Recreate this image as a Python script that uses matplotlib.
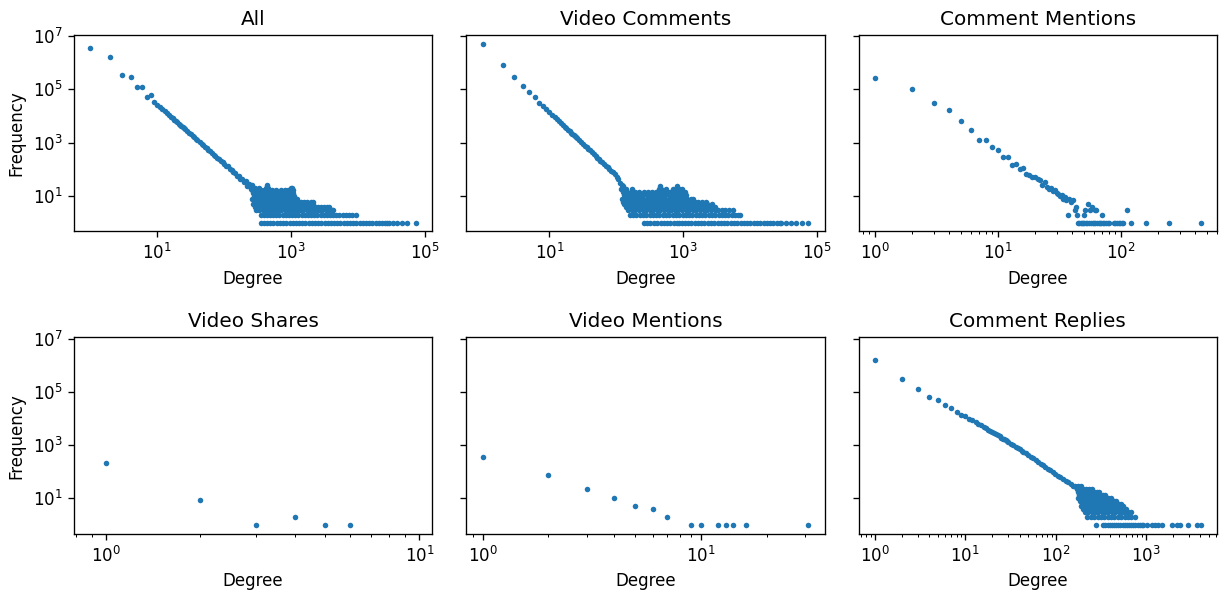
import matplotlib
matplotlib.use("Agg")
import matplotlib.pyplot as plt
from matplotlib.ticker import NullLocator

# ---- All ----
all_head_deg = [1, 2, 3, 4, 5, 6, 7, 8, 9, 10, 11, 12, 13, 14, 15, 16, 17, 18, 19, 20,
                21, 22, 23, 24, 25, 26, 28, 30, 32, 34, 36, 38, 40, 43, 46, 49, 52, 55,
                58, 62, 66, 70, 74, 79, 84, 89, 95, 101, 107, 114, 121, 129, 137, 146,
                155, 165, 175, 186, 198, 210, 223, 237, 252, 268]
all_head_freq = [3600000, 1600000, 340000, 300000, 120000, 118000, 52000, 60000, 33000,
                 27000, 22000, 17900, 15000, 12800, 10900, 9500, 8300, 7300, 6500, 5800,
                 5200, 4700, 4240, 3860, 3520, 3230, 2740, 2350, 2040, 1780, 1570, 1390,
                 1240, 1060, 910, 790, 690, 610, 543, 469, 408, 358, 316, 274, 239, 210,
                 182, 165, 133, 128, 100, 96, 77, 75, 58, 58, 43, 44, 32, 36, 24, 28, 19, 20]
all_tail = {
    25: [240, 265, 440],
    20: [250, 290, 330, 420, 455, 1000, 1040],
    16: [260, 300, 350, 400, 465, 520, 600, 700, 800, 900, 960, 1020, 1060],
    13: [270, 310, 340, 380, 430, 480, 540, 590, 650, 720, 780, 850, 920, 990, 1070],
    10: [280, 312, 345, 385, 430, 482, 535, 595, 660, 735, 820, 910, 1010, 1100],
    8: [262, 290, 325, 362, 400, 445, 495, 550, 615, 685, 760, 850, 945, 1050, 1170, 1250],
    6: [285, 315, 352, 390, 435, 485, 540, 600, 670, 745, 830, 925, 1030, 1150, 1280,
        1420, 1580, 1760, 1960, 2100],
    5: [270, 300, 335, 375, 415, 465, 515, 575, 640, 715, 795, 885, 985, 1100, 1220, 1360,
        1520, 1690, 1880, 2120],
    4: [290, 325, 360, 400, 450, 500, 560, 620, 690, 770, 860, 960, 1070, 1190, 1330, 1480,
        1650, 1840, 2050, 2280, 2540, 2830, 3150, 3500, 3700],
    3: [300, 335, 375, 420, 465, 520, 580, 645, 720, 800, 890, 995, 1110, 1235, 1380, 1535,
        1710, 1910, 2130, 2370, 2640, 2940, 3280, 3650, 4060, 4200],
    2: [350, 390, 435, 485, 540, 600, 670, 750, 835, 930, 1040, 1160, 1290, 1440, 1600,
        1790, 1990, 2220, 2480, 2760, 3080, 3430, 3830, 4270, 4760, 5300, 5910, 6590, 7350,
        8190, 9300],
    1: [350, 395, 440, 490, 545, 610, 680, 760, 850, 950, 1060, 1180, 1320, 1470, 1640, 1830,
        2040, 2280, 2540, 2840, 3170, 3540, 3950, 4410, 4920, 5490, 6130, 6840, 7640, 8530,
        9520, 10600, 11900, 13200, 14800, 16500, 18400, 20500, 22900, 25500, 27500, 29500,
        33000, 38000, 45000, 55000, 74000],
}

# ---- Video Comments ----
vc_head_deg = [1, 2, 3, 4, 5, 6, 7, 8, 9, 10, 11, 12, 13, 14, 15, 16, 17, 18, 19, 20,
               21, 22, 23, 24, 25, 26, 28, 30, 32, 34, 36, 38, 40, 43, 46, 49, 52, 55,
               58, 62, 66, 70, 74, 79, 84, 89, 95, 101, 107, 114, 121]
vc_head_freq = [5100000, 840000, 280000, 133000, 77000, 50000, 32000, 24000, 18000,
                14100, 11200, 9100, 7540, 6320, 5360, 4600, 3980, 3470, 3050, 2700,
                2400, 2150, 1930, 1750, 1580, 1440, 1210, 1025, 880, 760, 664, 583,
                516, 434, 370, 318, 276, 241, 213, 181, 156, 136, 119, 102, 88, 77,
                68, 52, 44, 30, 26]
vc_tail = {
    23: [125, 450, 820],
    18: [118, 140, 170, 430, 470, 560, 700, 790, 860, 950],
    14: [125, 145, 165, 190, 220, 260, 300, 340, 390, 440, 500, 570, 640, 720, 800, 880,
         960, 1050],
    11: [130, 150, 170, 195, 220, 250, 285, 325, 370, 420, 475, 540, 610, 690, 780, 880,
         990, 1100],
    8: [120, 135, 155, 175, 200, 225, 255, 290, 330, 375, 425, 480, 545, 615, 700, 790, 895,
        1010, 1140, 1300, 1400],
    6: [125, 142, 160, 182, 206, 233, 264, 299, 338, 383, 434, 491, 556, 630, 713, 807, 914,
        1035, 1170, 1325, 1500, 1700, 1900, 2200],
    5: [130, 148, 168, 190, 215, 244, 276, 312, 354, 400, 453, 513, 581, 658, 745, 843, 955,
        1080, 1225, 1385, 1570, 1780, 2010, 2280, 2700],
    4: [140, 158, 179, 203, 230, 260, 294, 333, 377, 427, 483, 547, 619, 701, 794, 899, 1018,
        1152, 1305, 1477, 1672, 1893, 2143, 2426, 2747, 3000],
    3: [150, 170, 192, 218, 247, 279, 316, 358, 405, 459, 519, 588, 666, 754, 853, 966, 1094,
        1238, 1402, 1587, 1797, 2034, 2303, 2607, 2952, 3342, 3783, 4283, 4849, 5490],
    2: [160, 180, 200, 225, 250, 280, 315, 350, 395, 440, 495, 555, 620, 695, 780, 870, 980,
        1095, 1230, 1375, 1540, 1720, 1930, 2160, 2420, 2710, 3040, 3400, 3810, 4270, 4780,
        5350, 5990, 6710, 7200],
    1: [260, 290, 325, 365, 410, 460, 515, 575, 645, 720, 800, 870, 950, 1060, 1190, 1330,
        1490, 1670, 1870, 2090, 2340, 2620, 2930, 3280, 3680, 4120, 4610, 5160, 5780, 6470,
        7250, 8120, 9090, 10200, 11400, 12800, 14300, 16000, 17900, 20100, 22500, 25200,
        28000, 29400, 35000, 41000, 49000, 61000, 75000],
}

# ---- Comment Mentions ----
cm_deg = [1, 2, 3, 4, 5, 6, 7, 8, 9, 10, 11, 12, 13, 14, 15, 16, 17, 18, 19, 20, 21, 22,
          23, 24, 25, 26, 27, 28, 29, 30, 31, 32, 33, 34, 35, 36, 37, 38, 39, 41, 42, 43,
          44, 50, 51, 54, 56, 58, 61, 63, 70, 111]
cm_freq = [270000, 106000, 32000, 17000, 6500, 3100, 1300, 1300, 690, 550, 290, 290, 150,
           160, 106, 108, 64, 60, 52, 50, 42, 40, 25, 33, 22, 19, 20, 15, 16, 13, 12, 10,
           11, 8, 9, 7, 2, 8, 6, 7, 3, 4, 2, 2, 3, 5, 3, 4, 3, 3, 2, 3]
cm_ones = [45, 46, 47, 48, 49, 50, 52, 53, 55, 57, 59, 60, 62, 64, 66, 67, 69, 71, 73, 76,
           78, 80, 88, 90, 93, 96, 99, 102, 104, 120, 160, 247, 445]

# ---- Video Shares ----
vs_deg = [1, 2, 3, 4, 5, 6]
vs_freq = [220, 9, 1, 2, 1, 1]

# ---- Video Mentions ----
vm_deg = [1, 2, 3, 4, 5, 6, 7, 9, 10, 12, 13, 14, 16, 31]
vm_freq = [350, 78, 22, 10, 5, 4, 2, 1, 1, 1, 1, 1, 1, 1]

# ---- Comment Replies ----
cr_head_deg = [1, 2, 3, 4, 5, 6, 7, 8, 9, 10, 11, 12, 13, 14, 15, 16, 17, 18, 19, 20,
               21, 22, 23, 24, 25, 26, 27, 28, 29, 30, 32, 34, 36, 38, 40, 42, 44, 47,
               50, 53, 56, 60, 64, 68, 72, 77, 82, 87, 93, 99, 106, 113, 121, 129, 138,
               147, 157, 168, 180, 193, 206, 220]
cr_head_freq = [1600000, 300000, 126000, 67000, 49000, 31000, 24000, 18000, 14000,
                12000, 10000, 8450, 7240, 6270, 5480, 4840, 4300, 3850, 3470, 3140,
                2840, 2570, 2330, 2120, 1940, 1780, 1640, 1510, 1400, 1300, 1130, 990,
                870, 775, 692, 622, 562, 487, 422, 368, 324, 275, 237, 205, 179, 153,
                132, 115, 98, 85, 72, 62, 53, 46, 40, 35, 30, 26, 22, 19, 17, 14]
cr_tail = {
    30: [165, 178, 190],
    22: [172, 185, 200, 215, 232, 250],
    17: [176, 192, 208, 226, 245, 265, 290, 300],
    13: [182, 198, 215, 235, 255, 278, 302, 330, 350],
    10: [178, 195, 212, 230, 250, 272, 296, 322, 350, 380, 410],
    8: [188, 205, 224, 244, 266, 290, 316, 344, 375, 408, 445, 470],
    6: [196, 214, 233, 254, 277, 302, 329, 358, 390, 425, 463, 505, 530],
    5: [192, 210, 229, 250, 272, 297, 323, 352, 384, 418, 456, 497, 540, 560],
    4: [200, 218, 238, 259, 282, 308, 335, 365, 398, 434, 473, 515, 560, 600],
    3: [210, 229, 250, 272, 297, 323, 352, 384, 418, 456, 497, 541, 590, 640, 680],
    2: [225, 245, 267, 291, 317, 346, 377, 411, 448, 488, 532, 580, 632, 690, 760],
    1: [277, 336, 355, 375, 396, 418, 442, 467, 493, 521, 550, 581, 614, 648, 685, 723,
        764, 807, 852, 900, 930, 1035, 1155, 1260, 1370, 1490, 1920, 2180, 2380, 2940,
        3640, 4030],
}


def combine(head_deg, head_freq, tail):
    xs, ys = list(head_deg), list(head_freq)
    for f, degs in tail.items():
        xs += degs
        ys += [f] * len(degs)
    return xs, ys


panels = [
    ("All", combine(all_head_deg, all_head_freq, all_tail)),
    ("Video Comments", combine(vc_head_deg, vc_head_freq, vc_tail)),
    ("Comment Mentions", combine(cm_deg, cm_freq, {1: cm_ones})),
    ("Video Shares", (vs_deg, vs_freq)),
    ("Video Mentions", (vm_deg, vm_freq)),
    ("Comment Replies", combine(cr_head_deg, cr_head_freq, cr_tail)),
]

fig, axes = plt.subplots(2, 3, sharey=True, figsize=(1225 / 120, 597 / 120), dpi=120)
fig.subplots_adjust(left=74 / 1225, right=1217 / 1225, top=1 - 35 / 597,
                    bottom=1 - 534 / 597, wspace=34 / 359, hspace=106 / 196.5)

for ax, (title, (x, y)) in zip(axes.flat, panels):
    ax.scatter(x, y, s=11, linewidths=0, color="#1f77b4")
    ax.set_xscale("log")
    ax.set_yscale("log")
    ax.set_title(title)
    ax.set_xlabel("Degree")

# the two wide panels only carry every other decade
for ax in (axes[0, 0], axes[0, 1]):
    ax.set_xticks([1e1, 1e3, 1e5])
    ax.xaxis.set_minor_locator(NullLocator())

axes[1, 0].set_xlim(0.79, 11.0)
axes[0, 0].set_ylabel("Frequency")
axes[1, 0].set_ylabel("Frequency")

fig.savefig("out.png", dpi=120)
